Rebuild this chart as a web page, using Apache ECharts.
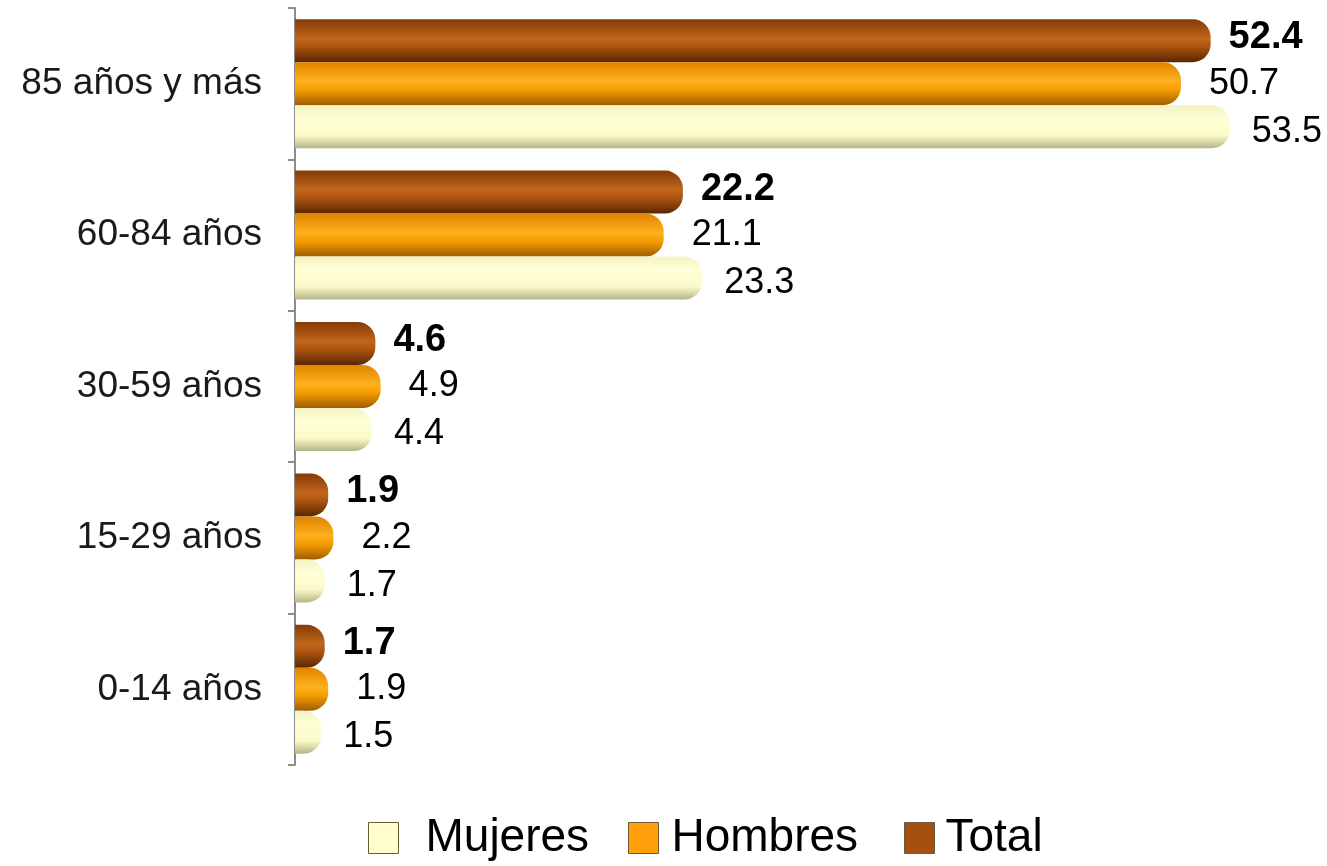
<!DOCTYPE html>
<html>
<head>
<meta charset="utf-8">
<script src="https://cdn.jsdelivr.net/npm/echarts@6/dist/echarts.min.js"></script>
<style>
html,body{margin:0;padding:0;background:#fff;}
#chart{width:1327px;height:866px;}
</style>
</head>
<body>
<div id="chart"></div>
<script>
// Categories (bottom to top)
var categories = ['0-14 años', '15-29 años', '30-59 años', '60-84 años', '85 años y más'];
var seriesNames = ['Mujeres', 'Hombres', 'Total'];
var mujeres = [1.5, 1.7, 4.4, 23.3, 53.5];
var hombres = [1.9, 2.2, 4.9, 21.1, 50.7];
var total = [1.7, 1.9, 4.6, 22.2, 52.4];

var FONT = '"Liberation Sans", Arial, sans-serif';
function grad(stops) {
  return new echarts.graphic.LinearGradient(0, 0, 0, 1, stops.map(function (s) {
    return { offset: s[0], color: s[1] };
  }));
}
var styles = {
  Mujeres: grad([[0, '#F2F2C2'], [0.3, '#FFFFD6'], [0.7, '#FAFAC8'], [1, '#B5B58A']]),
  Hombres: grad([[0, '#E08400'], [0.45, '#FFB11E'], [0.65, '#F39C00'], [1, '#A05C00']]),
  Total: grad([[0, '#843A06'], [0.45, '#C2661C'], [0.65, '#A9520F'], [1, '#5A2600']])
};
var flat = { Mujeres: '#FFFFCC', Hombres: '#FF9F0A', Total: '#A5500F' };
var legendLeft = { Mujeres: 363, Hombres: 623, Total: 899 };
var legendPad = { Mujeres: 22, Hombres: 8, Total: 6 };

function mk(name, data, opts) {
  return {
    name: name,
    type: 'bar',
    data: data,
    barWidth: 43,
    barGap: '0%',
    itemStyle: {
      color: styles[name],
      borderRadius: [0, 18, 18, 0]
    },
    label: {
      show: true,
      position: 'right',
      distance: opts.distance,
      offset: opts.offset,
      color: '#000',
      fontFamily: FONT,
      fontSize: opts.fontSize,
      fontWeight: opts.bold ? 'bold' : 'normal',
      formatter: function (p) { return p.value.toFixed(1); }
    }
  };
}

var chart = echarts.init(document.getElementById('chart'));
chart.setOption({
  animation: false,
  backgroundColor: '#fff',
  grid: { left: 295, right: 36, top: 8, bottom: 101, containLabel: false },
  xAxis: {
    type: 'value', min: 0, max: 57, show: false
  },
  yAxis: {
    type: 'category',
    data: categories,
    axisLine: { show: true, lineStyle: { color: '#8C8C8C', width: 2 } },
    axisTick: { show: true, inside: false, length: 7, lineStyle: { color: '#8C8C8C', width: 2 } },
    axisLabel: { margin: 33, color: '#1A1A1A', fontFamily: FONT, fontSize: 37 },
    splitLine: { show: false }
  },
  legend: seriesNames.map(function (n) {
    return {
      left: legendLeft[n],
      top: 810,
      itemWidth: 30,
      itemHeight: 31,
      textStyle: { fontFamily: FONT, fontSize: 46, color: '#000', padding: [0, 0, 0, legendPad[n]] },
      data: [{ name: n, icon: 'rect', itemStyle: { color: flat[n], borderColor: '#6B5A3A', borderWidth: 1 } }]
    };
  }),
  series: [
    mk('Total', total, { distance: 18, offset: [0, -3], fontSize: 38, bold: true }),
    mk('Hombres', hombres, { distance: 28, offset: [0, 0], fontSize: 36 }),
    mk('Mujeres', mujeres, { distance: 22, offset: [0, 5], fontSize: 36 })
  ]
});
</script>
</body>
</html>
